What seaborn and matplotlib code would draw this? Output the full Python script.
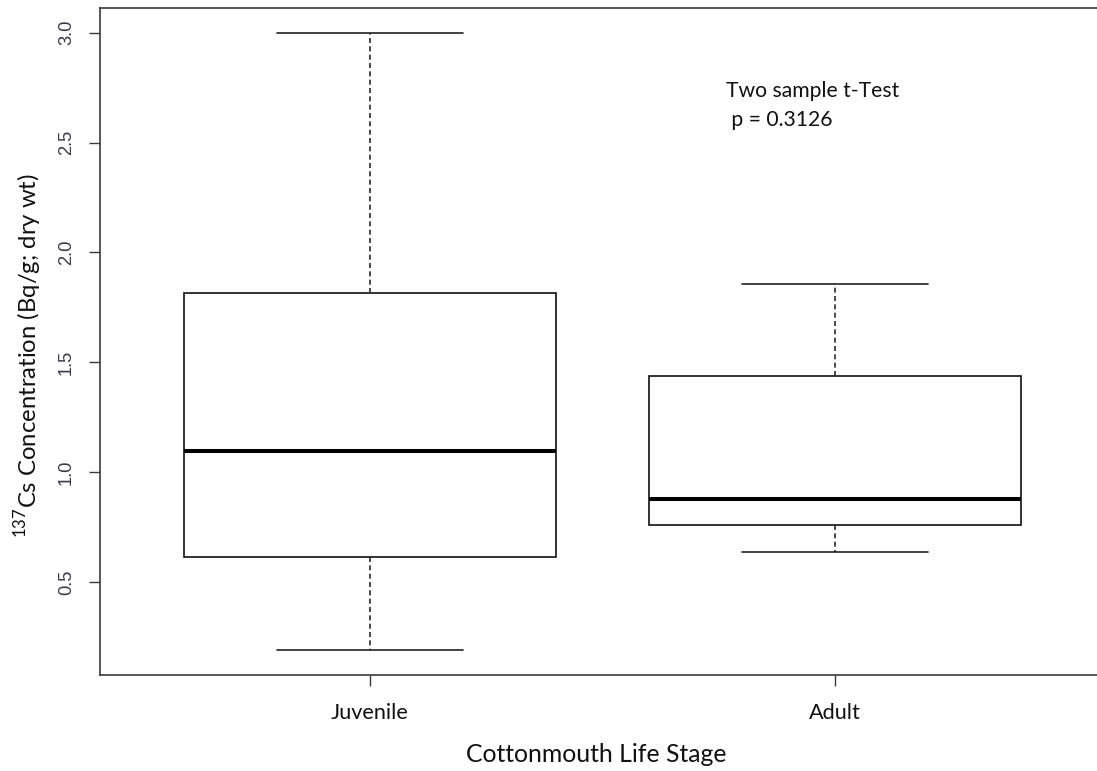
import matplotlib
matplotlib.use("Agg")
import matplotlib.pyplot as plt
import seaborn as sns
import pandas as pd

# ---- data (five-number summaries) ----
stages = ["Juvenile", "Adult"]
juvenile_values = [0.19, 0.614, 1.097, 1.817, 3.00]
adult_values = [0.637, 0.759, 0.877, 1.437, 1.855]
y_ticks = [0.5, 1.0, 1.5, 2.0, 2.5, 3.0]
y_tick_labels = ["0.5", "1.0", "1.5", "2.0", "2.5", "3.0"]
x_label = "Cottonmouth Life Stage"
y_label = r"$^{137}$Cs Concentration (Bq/g; dry wt)"
annotation_lines = ["Two sample t-Test", " p = 0.3126"]

df = pd.DataFrame({
    "stage": [stages[0]] * len(juvenile_values) + [stages[1]] * len(adult_values),
    "value": juvenile_values + adult_values,
})

sns.set_theme(style="white")
plt.rcParams["mathtext.fontset"] = "custom"
plt.rcParams["mathtext.rm"] = "Lato"

W, H = 1097, 771
fig = plt.figure(figsize=(W / 100, H / 100), dpi=100)
fig.patch.set_facecolor("white")
# axes frame: left 100px, bottom 675px, top 8px, right beyond the image edge
ax = fig.add_axes([100 / W, (H - 675) / H, 1005 / W, 667 / H])

box_lw = 1.2
sns.boxplot(
    data=df, x="stage", y="value", order=stages, ax=ax,
    color="white", linecolor="black", linewidth=box_lw, width=0.8,
    whis=1.5, fliersize=0,
    whiskerprops={"linestyle": (0, (3.0, 2.0)), "linewidth": box_lw, "color": "#2a2a2a"},
    capprops={"linewidth": box_lw, "color": "#222222"},
    boxprops={"linewidth": box_lw, "edgecolor": "#111111"},
    medianprops={"linewidth": 2.9, "color": "black"},
)

ax.set_xlim(-0.58, 1.58)
ax.set_ylim(0.0776, 3.1124)
ax.set_facecolor("white")

for s in ax.spines.values():
    s.set_visible(True)
    s.set_color("#3a3a3a")
    s.set_linewidth(1.2)

ax.set_yticks(y_ticks)
ax.set_yticklabels(y_tick_labels, family="Liberation Sans", fontsize=13.2,
                   color="#3a3a4a", rotation=90, va="center")
ax.tick_params(axis="y", direction="out", length=8, width=1.0, color="#3a3a3a", pad=10, left=True)
ax.tick_params(axis="x", direction="out", length=8, width=1.0, color="#3a3a3a", pad=12, bottom=True)
for lab in ax.get_xticklabels():
    lab.set_family("Lato")
    lab.set_fontsize(15.6)
    lab.set_color("#111111")

ax.set_xlabel(x_label, family="Lato", fontsize=17.8, color="#111111")
ax.xaxis.set_label_coords((596 - 100) / 1005, (675 - 755) / 667)
ax.xaxis.label.set_verticalalignment("center")

ax.set_ylabel(y_label, family="Lato", fontsize=17.2, color="#111111")
ax.yaxis.set_label_coords((28 - 100) / 1005, (675 - 356) / 667)
ax.yaxis.label.set_verticalalignment("center")

ax.text(0.766, 2.707, annotation_lines[0], family="Lato", fontsize=15.2,
        ha="left", va="baseline", color="#111111")
ax.text(0.766, 2.575, annotation_lines[1], family="Lato", fontsize=15.2,
        ha="left", va="baseline", color="#111111")

fig.savefig("out.png", dpi=100, facecolor="white")
